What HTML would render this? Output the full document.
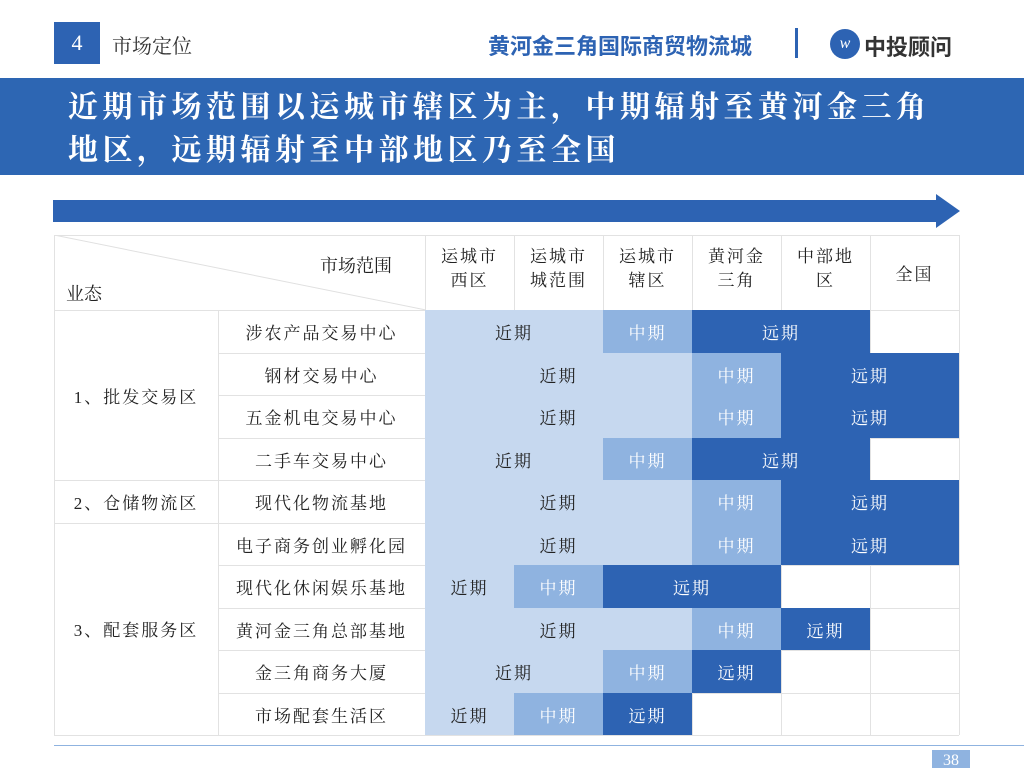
<!DOCTYPE html>
<html><head><meta charset="utf-8"><style>
*{margin:0;padding:0;box-sizing:border-box}
body{width:1024px;height:768px;background:#fff;position:relative;overflow:hidden;font-family:"Liberation Serif","Noto Serif CJK SC",serif;color:#222}
.a{position:absolute}
.c{position:absolute;display:flex;align-items:center;justify-content:center;font-size:17px;letter-spacing:2px}
.l{background:#c6d8ef;color:#222}
.m{background:#8fb3e0;color:#fff}
.d{background:#2d63b3;color:#fff}
.hl{position:absolute;height:1px;background:#e2e2e2}
.vl{position:absolute;width:1px;background:#e2e2e2}
</style></head><body>
<div class="a" style="left:54px;top:22px;width:46px;height:42px;background:#2d63b3;color:#fff;font-size:22px;display:flex;align-items:center;justify-content:center">4</div>
<div class="a" style="left:112px;top:30px;font-size:20px;color:#333">市场定位</div>
<div class="a" style="left:488px;top:29px;font-size:22px;font-weight:bold;color:#2d63b3;font-family:'Liberation Sans','Noto Sans CJK SC',sans-serif">黄河金三角国际商贸物流城</div>
<div class="a" style="left:795px;top:28px;width:3px;height:30px;background:#2d63b3"></div>
<div class="a" style="left:830px;top:29px;width:30px;height:30px;border-radius:50%;background:#2d63b3;color:#fff;font-size:16px;text-align:center;line-height:30px;font-style:italic">w</div>
<div class="a" style="left:864px;top:30px;font-size:22px;font-weight:bold;color:#333;font-family:'Liberation Sans','Noto Sans CJK SC',sans-serif">中投顾问</div>
<div class="a" style="left:0;top:78px;width:1024px;height:97px;background:#2d66b3"></div>
<div class="a" style="left:68px;top:86px;color:#fff;font-size:30px;font-weight:bold;line-height:43px;letter-spacing:4.5px;white-space:nowrap">近期市场范围以运城市辖区为主，中期辐射至黄河金三角<br>地区，远期辐射至中部地区乃至全国</div>
<div class="a" style="left:53px;top:200px;width:890px;height:22px;background:#2d63b3"></div>
<div class="a" style="left:936px;top:194px;width:0;height:0;border-top:17px solid transparent;border-bottom:17px solid transparent;border-left:24px solid #2d63b3"></div>

<svg class="a" style="left:54px;top:235px" width="372" height="75"><line x1="0" y1="0" x2="372" y2="75" stroke="#e0e0e0" stroke-width="1"/></svg>
<div class="a" style="left:320px;top:252px;font-size:18px">市场范围</div>
<div class="a" style="left:66px;top:280px;font-size:18px">业态</div>
<div class="c" style="left:425px;top:245px;width:89px;line-height:24px;text-align:center">运城市<br>西区</div>
<div class="c" style="left:514px;top:245px;width:89px;line-height:24px;text-align:center">运城市<br>城范围</div>
<div class="c" style="left:603px;top:245px;width:89px;line-height:24px;text-align:center">运城市<br>辖区</div>
<div class="c" style="left:692px;top:245px;width:89px;line-height:24px;text-align:center">黄河金<br>三角</div>
<div class="c" style="left:781px;top:245px;width:89px;line-height:24px;text-align:center">中部地<br>区</div>
<div class="c" style="left:870px;top:260px;width:89px">全国</div>

<div id="grid"></div>
<div class="c" style="left:54px;top:310px;width:164px;height:170px">1、批发交易区</div>
<div class="c" style="left:54px;top:480px;width:164px;height:42px">2、仓储物流区</div>
<div class="c" style="left:54px;top:522px;width:164px;height:213px">3、配套服务区</div>

<div class="a" style="left:54px;top:745px;width:970px;height:1px;background:#8fb3e0"></div>
<div class="a" style="left:932px;top:750px;width:38px;height:18px;background:#8fb3e0;color:#fff;font-size:16px;text-align:center;line-height:22px">38</div>
<script>
var rows=[["涉农产品交易中心",2,3,5],["钢材交易中心",3,4,6],["五金机电交易中心",3,4,6],["二手车交易中心",2,3,5],["现代化物流基地",3,4,6],["电子商务创业孵化园",3,4,6],["现代化休闲娱乐基地",1,2,4],["黄河金三角总部基地",3,4,5],["金三角商务大厦",2,3,4],["市场配套生活区",1,2,3]];
var h="",y0=310,rh=42.5,x0=425,cw=89;
h+='<div class="hl" style="left:54px;width:905px;top:235px"></div>';
h+='<div class="vl" style="left:54px;top:235px;height:500px"></div>';
h+='<div class="vl" style="left:218px;top:310px;height:425px"></div>';
for(var k=0;k<=7;k++){h+='<div class="vl" style="left:'+(x0+k*cw)+'px;top:235px;height:500px"></div>';}
for(var i=0;i<=10;i++){var y=Math.round(y0+i*rh);var lx=(i==0||i==4||i==5||i==10)?54:218;h+='<div class="hl" style="left:'+lx+'px;width:'+(959-lx)+'px;top:'+y+'px"></div>';}
rows.forEach(function(r,i){var y=Math.round(y0+i*rh),hh=Math.round(y0+(i+1)*rh)-y;
h+='<div class="c" style="left:218px;top:'+y+'px;width:207px;height:'+hh+'px">'+r[0]+'</div>';
h+='<div class="c l" style="left:'+x0+'px;top:'+y+'px;width:'+(r[1]*cw)+'px;height:'+hh+'px">近期</div>';
h+='<div class="c m" style="left:'+(x0+r[1]*cw)+'px;top:'+y+'px;width:'+((r[2]-r[1])*cw)+'px;height:'+hh+'px">中期</div>';
h+='<div class="c d" style="left:'+(x0+r[2]*cw)+'px;top:'+y+'px;width:'+((r[3]-r[2])*cw)+'px;height:'+hh+'px">远期</div>';});
document.getElementById("grid").innerHTML=h;
</script>
</body></html>
